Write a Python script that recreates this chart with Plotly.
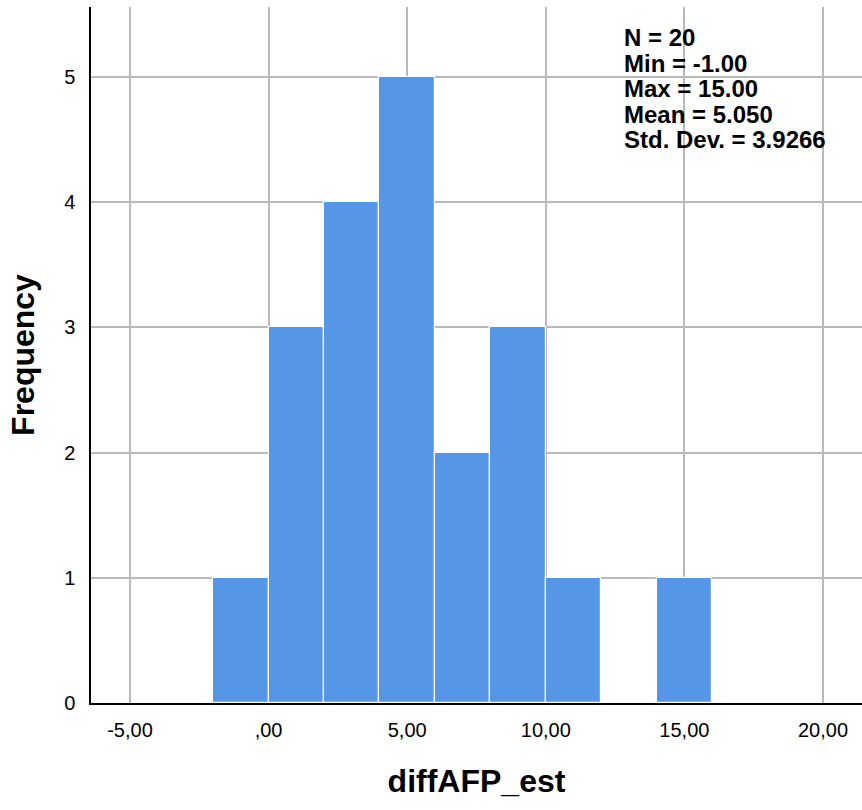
import plotly.graph_objects as go

# Histogram bins (width 2) and frequencies
bin_starts = [-2, 0, 2, 4, 6, 8, 10, 12, 14]
bin_width = 2
counts = [1, 3, 4, 5, 2, 3, 1, 0, 1]

x_tick_vals = [-5, 0, 5, 10, 15, 20]
x_tick_text = ["-5,00", ",00", "5,00", "10,00", "15,00", "20,00"]
y_tick_vals = [0, 1, 2, 3, 4, 5]
y_tick_text = ["0", "1", "2", "3", "4", "5"]

stats_lines = ["N = 20", "Min = -1.00", "Max = 15.00", "Mean = 5.050", "Std. Dev. = 3.9266"]

x_title = "diffAFP_est"
y_title = "Frequency"

FONT = "Arial, 'Liberation Sans', sans-serif"
BAR_COLOR = "#5596E6"
GRID = "#b9b9b9"

centers = [s + bin_width / 2 for s in bin_starts]

fig = go.Figure()
fig.add_trace(go.Bar(
    x=centers, y=counts, width=[bin_width] * len(centers),
    marker=dict(color=BAR_COLOR, line=dict(color="white", width=1.2)),
    hoverinfo="x+y", showlegend=False,
))

W, H = 862, 810
ml, mr, mt, mb = 91, 0, 7, 107
plot_h = H - mt - mb

annotations = []
for i, line in enumerate(stats_lines):
    yc = 38 + 25.4 * i  # pixel center from top
    annotations.append(dict(
        text="<b>" + line + "</b>", xref="paper", yref="paper",
        x=(622 - ml) / (W - ml - mr), y=(H - mb - yc) / plot_h,
        xanchor="left", yanchor="middle", showarrow=False,
        font=dict(family=FONT, size=24, color="black"),
    ))

fig.update_layout(
    width=W, height=H,
    margin=dict(l=ml, r=mr, t=mt, b=mb),
    paper_bgcolor="white", plot_bgcolor="white",
    bargap=0,
    font=dict(family=FONT, color="black"),
    annotations=annotations,
    xaxis=dict(
        range=[-6.407, 21.407], tickvals=x_tick_vals, ticktext=x_tick_text,
        showgrid=True, gridcolor=GRID, gridwidth=1.5,
        showline=True, linecolor="black", linewidth=1.5,
        ticks="outside", ticklen=8, tickcolor="rgba(0,0,0,0)",
        tickfont=dict(family=FONT, size=20, color="black"),
        zeroline=False,
        title=dict(text="<b>" + x_title + "</b>", font=dict(family=FONT, size=32, color="black"), standoff=30),
    ),
    yaxis=dict(
        range=[0, 5.56], tickvals=y_tick_vals, ticktext=y_tick_text,
        showgrid=True, gridcolor=GRID, gridwidth=1.5,
        showline=True, linecolor="black", linewidth=1.5,
        ticks="outside", ticklen=10, tickcolor="rgba(0,0,0,0)",
        tickfont=dict(family=FONT, size=20, color="black"),
        zeroline=False,
        title=dict(text="<b>" + y_title + "</b>", font=dict(family=FONT, size=32, color="black"), standoff=20),
    ),
)

fig.write_html("out.html")
